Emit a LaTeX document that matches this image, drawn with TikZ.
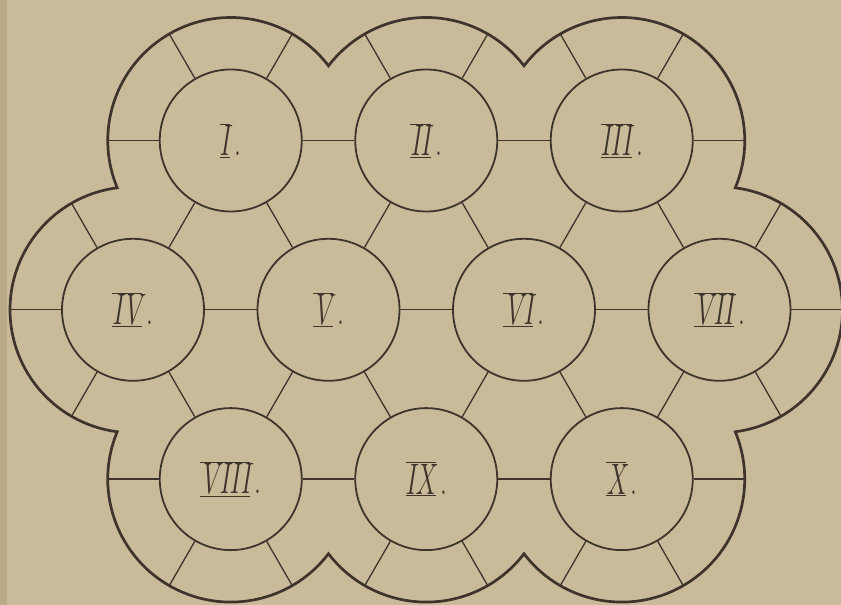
\documentclass[tikz,border=0pt]{standalone}
\usetikzlibrary{calc}
\definecolor{paper}{RGB}{201,187,153}
\definecolor{paperedge}{RGB}{186,170,136}
\definecolor{ink}{RGB}{62,52,43}
\newcommand\numlab[1]{\scalebox{0.62}[1]{$\overline{\underline{\textit{#1}}}$\,.}}
\begin{document}
\begin{tikzpicture}[x=1pt,y=1pt,
  cell/.style={circle,draw=ink,line width=1.8pt,minimum size=142pt,inner sep=0pt,
    font=\fontsize{44}{44}\selectfont,text=ink},
  spoke/.style={draw=ink,line width=1.3pt},
  rim/.style={draw=ink,line width=2.7pt,line join=miter}]
\pgfmathsetmacro\Rb{123}
\pgfmathsetmacro\al{acos(97.75/123)}
\fill[paper] (0,0) rectangle (841,605);
\fill[paperedge] (0,0) rectangle (7,605);
\useasboundingbox (0,0) rectangle (841,605);
% circles
\node[cell] (I)    at (230.75,464.51) {\numlab{I}};
\node[cell] (II)   at (426.25,464.51) {\numlab{II}};
\node[cell] (III)  at (621.75,464.51) {\numlab{III}};
\node[cell] (IV)   at (133,295.2)     {\numlab{IV}};
\node[cell] (V)    at (328.5,295.2)   {\numlab{V}};
\node[cell] (VI)   at (524,295.2)     {\numlab{VI}};
\node[cell] (VII)  at (719.5,295.2)   {\numlab{VII}};
\node[cell] (VIII) at (230.75,125.89) {\numlab{VIII}};
\node[cell] (IX)   at (426.25,125.89) {\numlab{IX}};
\node[cell] (X)    at (621.75,125.89) {\numlab{X}};
% outer scalloped boundary
\draw[rim] ($(I.center)+(\al:\Rb)$)
  arc[start angle=\al, end angle=240-\al, radius=\Rb]
  arc[start angle=60+\al, end angle=300-\al, radius=\Rb]
  arc[start angle=120+\al, end angle=360-\al, radius=\Rb]
  arc[start angle=180+\al, end angle=360-\al, radius=\Rb]
  arc[start angle=180+\al, end angle=420-\al, radius=\Rb]
  arc[start angle=240+\al, end angle=480-\al, radius=\Rb]
  arc[start angle=300+\al, end angle=540-\al, radius=\Rb]
  arc[start angle=\al, end angle=180-\al, radius=\Rb]
  -- cycle;
% connections between neighbouring circles
\foreach \a/\b in {I/II,II/III,I/IV,I/V,II/V,II/VI,III/VI,III/VII,
                   IV/V,V/VI,VI/VII,IV/VIII,V/VIII,V/IX,VI/IX,VI/X,VII/X,
                   VIII/IX,IX/X}
  \draw[spoke] (\a) -- (\b);
% spokes to the outer boundary
\foreach \n/\d in {I/60,I/120,I/180,II/60,II/120,III/0,III/60,III/120,
                   IV/120,IV/180,IV/240,VII/0,VII/60,VII/300,
                   VIII/180,VIII/240,VIII/300,IX/240,IX/300,X/0,X/240,X/300}
{
  \coordinate (\n-o\d) at ($(\n.center)+(\d:\Rb)$);
  \draw[spoke] (\n) -- (\n-o\d);
}
\end{tikzpicture}
\end{document}
